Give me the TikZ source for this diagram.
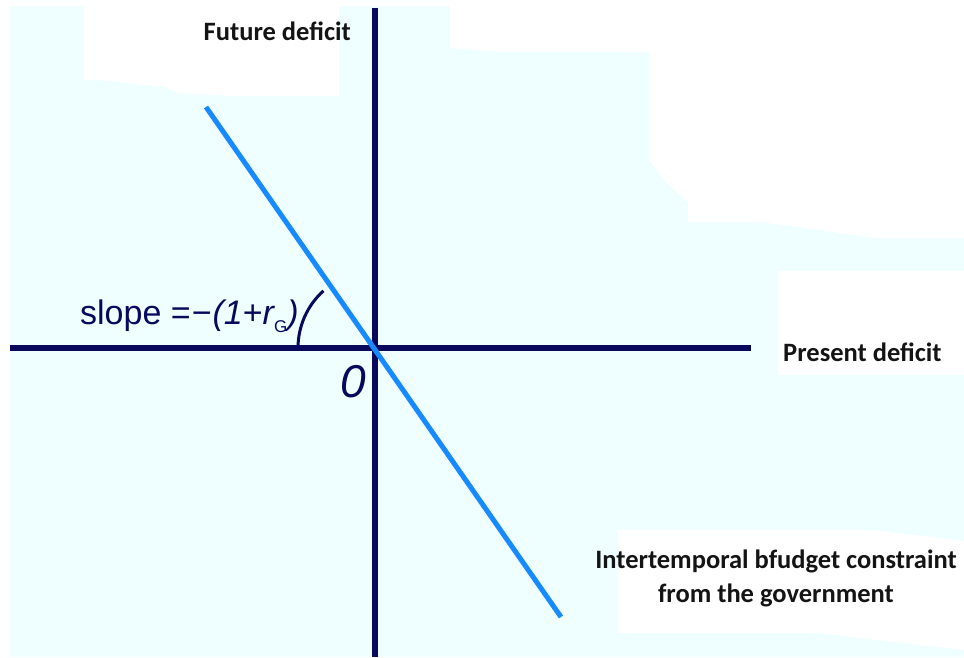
\documentclass[tikz,border=0pt]{standalone}
\usepackage{fontspec}
\usetikzlibrary{calc}
\setmainfont{Carlito}
\newfontfamily\arialf{Liberation Sans}
\definecolor{bgcyan}{RGB}{239,255,255}
\definecolor{axisnavy}{RGB}{8,8,92}
\definecolor{lineblue}{RGB}{24,138,255}
\definecolor{labelblack}{RGB}{20,20,20}
\begin{document}
\begin{tikzpicture}[x=1pt,y=-1pt,
  axisline/.style={draw=axisnavy,line width=5.5pt},
  constraintline/.style={draw=lineblue,line width=5pt},
  boldlabel/.style={font=\fontsize{26.5}{34}\selectfont\bfseries,text=labelblack,inner sep=0pt},
  navylabel/.style={text=axisnavy,inner sep=0pt}]
\useasboundingbox (0,0) rectangle (964,657);
% background
\fill[white] (0,0) rectangle (964,657);
\fill[bgcyan] (10,6) rectangle (964,657);
\fill[white] (84,0) -- (339,0) -- (339,96) -- (234,96) -- (178,93) -- (165,87) -- (98,80) -- (84,80) -- cycle;
\fill[white] (450,0) -- (450,48) -- (504,52) -- (649,52) -- (649,160) -- (664,180) -- (688,203) -- (688,222) -- (760,222) -- (877,238) -- (964,238) -- (964,0) -- cycle;
\fill[white] (778,271) rectangle (964,375);
\fill[white] (618,530) -- (873,530) -- (964,541) -- (964,650) -- (817,633) -- (618,633) -- cycle;
% coordinates
\coordinate (O) at (375,348);
\coordinate (ytop) at (375,8);
\coordinate (ybot) at (375,657);
\coordinate (xleft) at (10,348);
\coordinate (xright) at (751,348);
\coordinate (ltop) at (206,107);
\coordinate (lbot) at (561,617);
% axes
\draw[axisline] (xleft) -- (xright);
\draw[axisline] (ytop) -- (ybot);
% constraint line
\draw[constraintline] (ltop) -- (lbot);
% angle arc
\draw[draw=axisnavy,line width=3pt] ($(O)+(-77,0)$) arc[start angle=180,end angle=228,radius=77];
% labels
\node[boldlabel,anchor=base east] (fut) at (351,40) {Future deficit};
\node[boldlabel,anchor=base west] (pres) at (783,361) {Present deficit};
\node[boldlabel,align=center,anchor=base] (ibc) at (776,602) {Intertemporal bfudget constraint\\from the government};
\node[navylabel,anchor=base west,font=\arialf\fontsize{34}{36}\selectfont] (slope) at (80,324) {slope =\kern1pt−\kern1pt\textit{(1}+\textit{r}\kern-1pt\raisebox{-8pt}{\fontsize{17}{17}\selectfont G}\kern0pt\textit{)}};
\node[navylabel,anchor=base,font=\arialf\itshape\fontsize{46}{46}\selectfont] (zero) at (353,397) {0};
\end{tikzpicture}
\end{document}
